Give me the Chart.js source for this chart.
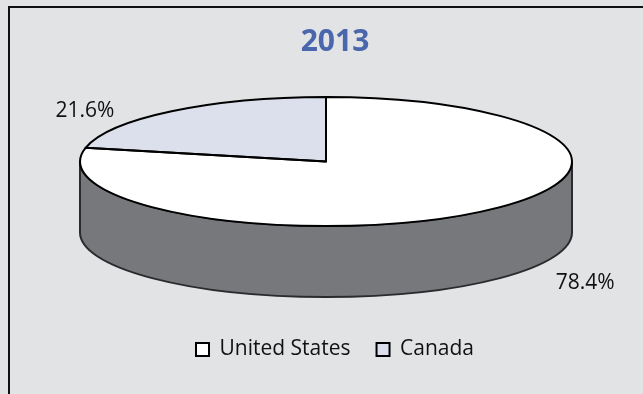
<!DOCTYPE html>
<html>
<head>
<meta charset="utf-8">
<script src="https://cdn.jsdelivr.net/npm/chart.js@4.4.0/dist/chart.umd.min.js"></script>
<style>
  html, body { margin: 0; padding: 0; background: #e2e3e5; }
  #wrap { position: relative; width: 643px; height: 394px; overflow: hidden; }
  #frame { position: absolute; left: 8px; top: 6px; width: 700px; height: 500px;
           border-left: 2px solid #111; border-top: 2px solid #111; }
  canvas { position: absolute; left: 0; top: 0; }
</style>
</head>
<body>
<div id="wrap">
  <div id="frame"></div>
  <canvas id="myChart" width="643" height="394"></canvas>
</div>
<script>
const chartTitle = '2013'
const countries = ['United States', 'Canada']
const shares = [78.4, 21.6]
const topColors = ['#ffffff', '#dbe0ec']
const sideColors = ['#77787c', '#9ea3b0']

// flattens the pie into a tilted disc and draws the visible front wall
const pie3d = {
  id: 'pie3d',
  geo(chart) {
    const o = chart.options.plugins.pie3d
    const a = chart.chartArea
    const rx = (a.right - a.left + o.leftBleed) / 2
    const ry = rx * o.tilt
    return { cx: a.right - rx, cy: a.top + ry, rx: rx, ry: ry, depth: rx * o.depth, mx: (a.left + a.right) / 2 }
  },
  beforeDatasetsDraw(chart) {
    const g = this.geo(chart)
    const ctx = chart.ctx
    const arcs = chart.getDatasetMeta(0).data
    arcs.forEach((arc, i) => {
      for (let k = -1; k <= 1; k++) {
        const lo = Math.max(arc.startAngle, 2 * Math.PI * k)
        const hi = Math.min(arc.endAngle, 2 * Math.PI * k + Math.PI)
        if (hi <= lo) continue
        ctx.beginPath()
        ctx.ellipse(g.cx, g.cy, g.rx, g.ry, 0, lo, hi)
        ctx.ellipse(g.cx, g.cy + g.depth, g.rx, g.ry, 0, hi, lo, true)
        ctx.closePath()
        ctx.fillStyle = sideColors[i]
        ctx.fill()
        ctx.lineWidth = 2
        ctx.strokeStyle = '#2b2b2d'
        ctx.stroke()
      }
    })
    const r = arcs[0].outerRadius
    ctx.save()
    ctx.translate(g.cx, g.cy)
    ctx.scale(g.rx / r, g.ry / r)
    ctx.translate(-arcs[0].x, -arcs[0].y)
  },
  afterDatasetsDraw(chart) {
    const g = this.geo(chart)
    const ctx = chart.ctx
    const arcs = chart.getDatasetMeta(0).data
    ctx.restore()
    ctx.lineJoin = 'round'
    // outline built in the flattened space, stroked with a normal pen
    arcs.forEach((arc) => {
      ctx.save()
      ctx.translate(g.cx, g.cy)
      ctx.scale(g.rx / arc.outerRadius, g.ry / arc.outerRadius)
      ctx.translate(-arc.x, -arc.y)
      ctx.beginPath()
      ctx.moveTo(arc.x, arc.y)
      ctx.arc(arc.x, arc.y, arc.outerRadius, arc.startAngle, arc.endAngle)
      ctx.closePath()
      ctx.restore()
      ctx.lineWidth = 2
      ctx.strokeStyle = '#000'
      ctx.stroke()
    })

    // percentage labels outside the disc
    ctx.font = '21px "Open Sans"'
    ctx.fillStyle = '#111'
    ctx.textAlign = 'center'
    ctx.textBaseline = 'middle'
    arcs.forEach((arc, i) => {
      const mid = (arc.startAngle + arc.endAngle) / 2
      const s = Math.sin(mid)
      const x = g.mx + 1.62 * g.rx * Math.cos(mid)
      const y = g.cy + g.ry * s + (s > 0 ? g.depth : 0)
      ctx.fillText(shares[i].toFixed(1) + '%', x, y)
    })
  }
}

const ctx = document.getElementById('myChart')

let myChart = new Chart(ctx, {
  type: 'pie',
  data: {
    labels: countries,
    datasets: [{
      data: shares,
      backgroundColor: topColors,
      borderColor: '#000',
      borderWidth: 0,
      clip: false
    }]
  },
  options: {
    responsive: false,
    animation: false,
    events: [],
    layout: { padding: { left: 98, right: 71, top: 0, bottom: 24 } },
    plugins: {
      pie3d: { tilt: 0.2622, depth: 0.2886, leftBleed: 18 },
      title: {
        display: true,
        text: chartTitle,
        color: '#4a66ac',
        font: { family: 'Open Sans', size: 30, weight: 'bold' },
        padding: { top: 24, bottom: 37 }
      },
      legend: {
        display: true,
        position: 'bottom',
        labels: {
          color: '#111',
          font: { family: 'Open Sans', size: 21 },
          boxWidth: 13,
          boxHeight: 13,
          padding: 26,
          generateLabels(chart) {
            return Chart.overrides.pie.plugins.legend.labels.generateLabels(chart).map((l) => {
              l.lineWidth = 2
              l.strokeStyle = '#000'
              return l
            })
          }
        }
      },
      tooltip: { enabled: false }
    }
  },
  plugins: [pie3d]
})
</script>
</body>
</html>
